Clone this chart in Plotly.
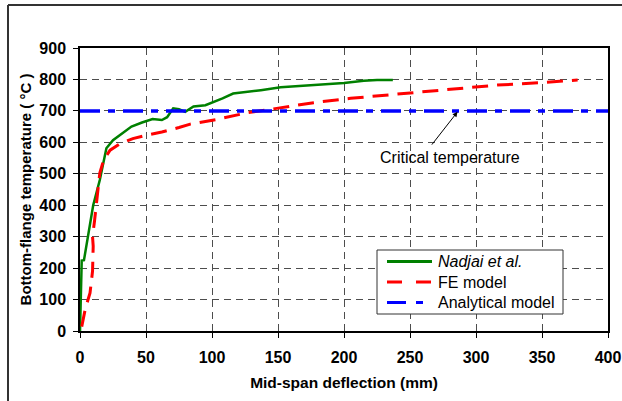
import plotly.graph_objects as go

# ---- data ----
nadjai_x = [0, 0.5, 1.3, 3, 6, 10, 15, 20, 25, 32, 39, 47, 55, 62, 66, 70.6, 75, 79.7, 86, 95, 101, 108, 116, 126.5, 137, 152, 167, 182, 200, 215, 225, 237]
nadjai_y = [0, 150, 224, 225, 300, 400, 480, 581, 607, 630, 650, 663, 674, 671, 680, 708, 705, 697, 714, 718, 727, 740, 755, 760, 766, 775, 779, 782, 789, 796, 798, 798]

fe_x = [1.3, 4, 7.6, 9.5, 10, 9.5, 11, 13, 15, 18, 22.8, 30, 40, 50.6, 62, 75, 83.5, 104, 126.5, 149, 177, 205, 235, 278, 316, 350, 377]
fe_y = [14, 70, 121, 190, 270, 300, 350, 430, 502, 545, 575, 595, 612, 623, 633, 647, 658, 673, 694, 708, 726, 740, 751, 767, 782, 790, 798]

analytical_x = [0, 400]
analytical_y = [700, 700]

x_ticks = [0, 50, 100, 150, 200, 250, 300, 350, 400]
y_ticks = [0, 100, 200, 300, 400, 500, 600, 700, 800, 900]

series_names = ["<i>Nadjai et al.</i>", "FE model", "Analytical model"]
series_colors = ["#008000", "#ff0000", "#0000ff"]
series_dash = ["solid", "16px,9px", "20px,8px,7px,8px"]
legend_dash = ["solid", "15px,14px", "19px,10px,7px,10px"]
series_width = [2.5, 3, 3.5]

FONT = "Liberation Sans, Arial, sans-serif"

W, H = 622, 401
ML, MR, MT, MB = 80, 14, 48, 70
PW, PH = W - ML - MR, H - MT - MB


def px(xp):
    return (xp - ML) / PW


def py(yp):
    return (H - MB - yp) / PH


fig = go.Figure()
for xs, ys, nm, c, d, w in zip([nadjai_x, fe_x, analytical_x], [nadjai_y, fe_y, analytical_y],
                               series_names, series_colors, series_dash, series_width):
    fig.add_trace(go.Scatter(x=xs, y=ys, mode="lines", name=nm, showlegend=False,
                             line=dict(color=c, width=w, dash=d)))

grid = dict(showgrid=True, gridcolor="#4d4d4d", gridwidth=1, griddash="7px,5px")

fig.update_xaxes(range=[0, 400], tickvals=x_ticks, ticks="outside", ticklen=5, tickcolor="black",
                 showline=True, linecolor="black", linewidth=1.5, mirror=True, zeroline=False,
                 automargin=False,
                 tickfont=dict(family=FONT, size=16, color="black", weight="bold"),
                 ticklabelstandoff=6,
                 title=dict(text="<b>Mid-span deflection (mm)</b>", standoff=12,
                            font=dict(family=FONT, size=15.5, color="black")),
                 **grid)
fig.update_yaxes(range=[0, 900], tickvals=y_ticks, ticks="outside", ticklen=5, tickcolor="black",
                 showline=True, linecolor="black", linewidth=1.5, mirror=True, zeroline=False,
                 automargin=False,
                 tickfont=dict(family=FONT, size=16, color="black", weight="bold"),
                 ticklabelstandoff=4,
                 title=dict(text="<b>Bottom-flange temperature ( °C )</b>", standoff=4,
                            font=dict(family=FONT, size=15, color="black")),
                 **grid)

fig.add_annotation(x=280, y=553, text="Critical temperature", showarrow=False,
                   font=dict(family=FONT, size=16, color="black"))
fig.add_annotation(x=286, y=697, ax=265.7, ay=588, axref="x", ayref="y", text="",
                   showarrow=True, arrowhead=2, arrowsize=1, arrowwidth=1, arrowcolor="black", standoff=0)

# outer chart frame (top and left edges visible in reference)
fig.add_shape(type="line", xref="paper", yref="paper", x0=px(8), x1=px(640), y0=py(5), y1=py(5),
              line=dict(color="#333333", width=2))
fig.add_shape(type="line", xref="paper", yref="paper", x0=px(8), x1=px(8), y0=py(5), y1=py(420),
              line=dict(color="#333333", width=2))

# legend box drawn by hand to match the reference's proportions
fig.add_shape(type="rect", xref="paper", yref="paper", x0=px(377), x1=px(563), y0=py(314), y1=py(250),
              fillcolor="white", line=dict(color="#333333", width=1), layer="above")
row_y = [261.5, 282, 302.5]
for ry, nm, c, d, w in zip(row_y, series_names, series_colors, legend_dash, series_width):
    fig.add_shape(type="line", xref="paper", yref="paper", x0=px(387), x1=px(432), y0=py(ry), y1=py(ry),
                  line=dict(color=c, width=3, dash=d), layer="above")
    fig.add_annotation(xref="paper", yref="paper", x=px(436), y=py(ry), text=nm, showarrow=False,
                       xanchor="left", yanchor="middle",
                       font=dict(family=FONT, size=16, color="black"))

fig.update_layout(
    width=W, height=H,
    margin=dict(l=ML, r=MR, t=MT, b=MB),
    paper_bgcolor="white", plot_bgcolor="white",
    font=dict(family=FONT, size=15, color="black"),
    showlegend=False,
)

fig.write_html("out.html", config={"displayModeBar": False},
               post_script="document.body.style.margin='0px';")
